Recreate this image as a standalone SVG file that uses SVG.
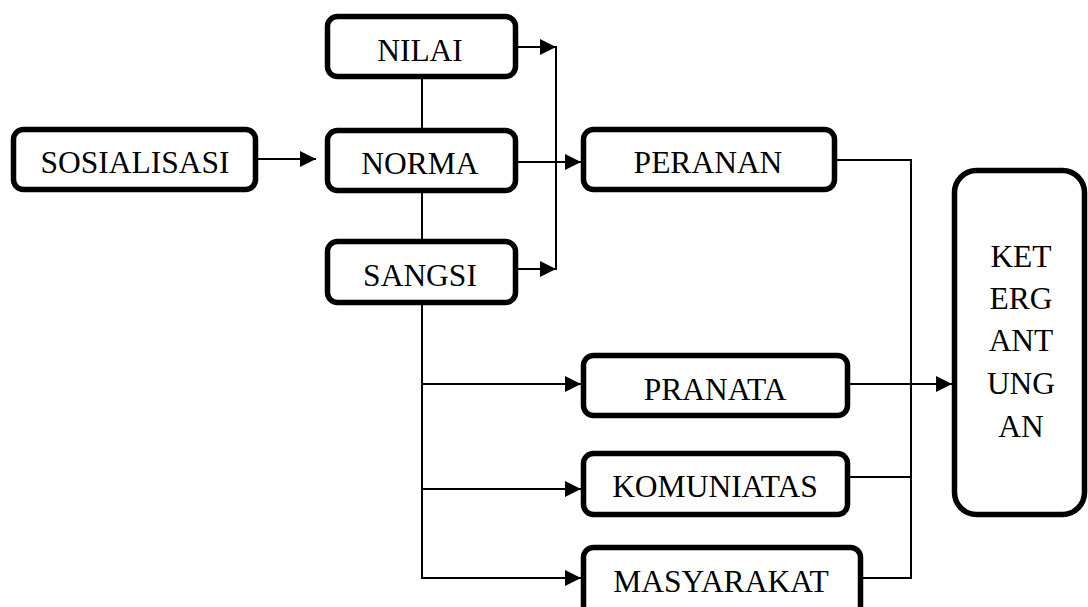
<svg xmlns="http://www.w3.org/2000/svg" width="1088" height="607" viewBox="0 0 1088 607">
  <style>
    .box { fill: #ffffff; stroke: #000000; stroke-width: 5.5; }
    .lbl { font-family: "Liberation Serif", "Times New Roman", serif; font-size: 31.5px; fill: #000000; text-anchor: middle; }
    .wire { fill: none; stroke: #000000; stroke-width: 2; }
  </style>
  <defs>
    <marker id="arrow" markerUnits="userSpaceOnUse" markerWidth="18" markerHeight="18" refX="16" refY="8" orient="auto">
      <path d="M0,0 L16,8 L0,16 Z" fill="#000000"/>
    </marker>
  </defs>
  <rect width="1088" height="607" fill="#ffffff"/>

  <!-- connectors -->
  <g id="connectors">
    <line class="wire" x1="258" y1="159" x2="316" y2="159" marker-end="url(#arrow)"/>
    <line class="wire" x1="518" y1="47" x2="556" y2="47" marker-end="url(#arrow)"/>
    <line class="wire" x1="518" y1="269" x2="556" y2="269" marker-end="url(#arrow)"/>
    <line class="wire" x1="556" y1="46" x2="556" y2="270"/>
    <line class="wire" x1="518" y1="162" x2="581" y2="162" marker-end="url(#arrow)"/>
    <line class="wire" x1="422" y1="79" x2="422" y2="128"/>
    <line class="wire" x1="422" y1="193" x2="422" y2="239"/>
    <path class="wire" d="M422,305 V579"/>
    <line class="wire" x1="421" y1="384" x2="581" y2="384" marker-end="url(#arrow)"/>
    <line class="wire" x1="421" y1="489" x2="581" y2="489" marker-end="url(#arrow)"/>
    <line class="wire" x1="421" y1="578" x2="581" y2="578" marker-end="url(#arrow)"/>
    <path class="wire" d="M837,160 H911 V578 H863"/>
    <line class="wire" x1="850" y1="477" x2="911" y2="477"/>
    <line class="wire" x1="850" y1="384" x2="952" y2="384" marker-end="url(#arrow)"/>
  </g>

  <g id="sosialisasi">
    <rect class="box" x="13.5" y="129.5" width="242" height="60" rx="10"/>
    <text class="lbl" x="135" y="173">SOSIALISASI</text>
  </g>
  <g id="nilai">
    <rect class="box" x="327.5" y="16.5" width="188" height="60" rx="10"/>
    <text class="lbl" x="420" y="61">NILAI</text>
  </g>
  <g id="norma">
    <rect class="box" x="327.5" y="130.5" width="188" height="60" rx="10"/>
    <text class="lbl" x="420" y="174">NORMA</text>
  </g>
  <g id="sangsi">
    <rect class="box" x="327.5" y="241.5" width="188" height="61" rx="10"/>
    <text class="lbl" x="420" y="286">SANGSI</text>
  </g>
  <g id="peranan">
    <rect class="box" x="583.5" y="129.5" width="251" height="60" rx="10"/>
    <text class="lbl" x="708" y="173">PERANAN</text>
  </g>
  <g id="pranata">
    <rect class="box" x="583.5" y="355.5" width="264" height="60" rx="10"/>
    <text class="lbl" x="715" y="400">PRANATA</text>
  </g>
  <g id="komuniatas">
    <rect class="box" x="583.5" y="453.5" width="264" height="61" rx="10"/>
    <text class="lbl" x="715" y="497">KOMUNIATAS</text>
  </g>
  <g id="masyarakat">
    <rect class="box" x="583.5" y="547.5" width="277" height="70" rx="10"/>
    <text class="lbl" x="721" y="592">MASYARAKAT</text>
  </g>
  <g id="ketergantungan">
    <rect class="box" x="954.5" y="170.5" width="130" height="344" rx="22"/>
    <text class="lbl" x="1021" y="267">KET</text>
    <text class="lbl" x="1021" y="309">ERG</text>
    <text class="lbl" x="1021" y="351">ANT</text>
    <text class="lbl" x="1021" y="394">UNG</text>
    <text class="lbl" x="1021" y="437">AN</text>
  </g>
</svg>
